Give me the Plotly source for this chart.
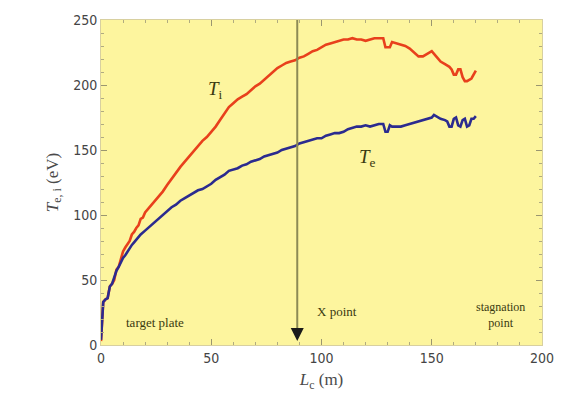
import plotly.graph_objects as go

# T_i (red) data: L_c (m) vs T (eV)
ti_x = [0, 0.5, 1, 2, 3, 4, 5, 6, 7, 8, 9, 10, 11, 12, 13, 14, 15, 16, 17, 18, 19, 20,
        22, 24, 26, 28, 30, 32, 34, 36, 38, 40, 42, 44, 46, 48, 50, 52, 54, 56, 58, 60,
        62, 64, 66, 68, 70, 72, 74, 76, 78, 80, 82, 84, 86, 88, 90, 92, 94, 96, 98, 100,
        102, 104, 106, 108, 110, 112, 114, 116, 118, 120, 122, 124, 126, 128, 129, 131,
        132, 134, 136, 138, 140, 142, 144, 146, 148, 150, 152, 154, 156, 158, 159, 160,
        161, 162, 163, 164, 165, 166, 168, 169, 170]
ti_y = [3, 20, 33, 35, 36, 45, 47, 50, 58, 60, 66, 72, 75, 78, 80, 85, 87, 90, 92, 97, 98, 102,
        106, 110, 114, 118, 123, 128, 132, 137, 141, 145, 149, 153, 157, 160, 164, 168, 173, 178, 183, 186,
        189, 191, 193, 196, 199, 201, 204, 207, 210, 213, 215, 217, 218, 219, 221, 222, 224, 226, 227, 229,
        231, 232, 233, 234, 235, 235, 236, 235, 235, 234, 235, 236, 236, 236, 229, 229,
        233, 232, 231, 230, 228, 225, 222, 222, 224, 226, 222, 218, 216, 214, 212, 208,
        208, 212, 212, 206, 203, 203, 205, 208, 211]

# T_e (blue) data
te_x = [0, 0.5, 1, 2, 3, 4, 5, 6, 7, 8, 9, 10, 11, 12, 13, 14, 15, 16, 17, 18, 20,
        22, 24, 26, 28, 30, 32, 34, 36, 38, 40, 42, 44, 46, 48, 50, 52, 54, 56, 58, 60,
        62, 64, 66, 68, 70, 72, 74, 76, 78, 80, 82, 84, 86, 88, 90, 92, 94, 96, 98, 100,
        102, 104, 106, 108, 110, 112, 114, 116, 118, 120, 122, 124, 126, 128, 129, 130,
        131, 132, 134, 136, 138, 140, 142, 144, 146, 148, 150, 151, 152, 154, 156, 157,
        158, 159, 160, 161, 162, 163, 164, 165, 166, 167, 168, 169, 170]
te_y = [4, 20, 33, 35, 36, 45, 47, 52, 57, 60, 64, 67, 69, 72, 75, 77, 79, 81, 83, 85, 88,
        91, 94, 97, 100, 103, 106, 108, 111, 113, 115, 117, 119, 120, 122, 124, 127, 129, 131, 134, 135,
        136, 138, 139, 141, 142, 143, 145, 146, 147, 148, 150, 151, 152, 153, 155, 156, 157, 158, 159, 159,
        161, 162, 163, 163, 164, 166, 167, 168, 168, 169, 168, 169, 170, 170, 164, 164,
        169, 168, 168, 168, 169, 170, 171, 172, 173, 174, 175, 177, 176, 174, 173, 172,
        168, 168, 174, 175, 169, 168, 173, 174, 168, 169, 174, 174, 176]

x_ticks = [0, 50, 100, 150, 200]
y_ticks = [0, 50, 100, 150, 200, 250]
x_point = 89

serif = "Liberation Serif, Times New Roman, serif"
narrow = "Liberation Sans Narrow, DejaVu Sans Condensed, Arial Narrow, sans-serif"
txt_col = "#3a3a10"

fig = go.Figure()
fig.add_trace(go.Scatter(x=ti_x, y=ti_y, mode="lines",
                         line=dict(color="#e8401c", width=2.6), showlegend=False))
fig.add_trace(go.Scatter(x=te_x, y=te_y, mode="lines",
                         line=dict(color="#2b2b8f", width=2.6), showlegend=False))

# X point vertical line with arrow
fig.add_shape(type="line", x0=x_point, x1=x_point, y0=250, y1=10,
              xref="x", yref="y", line=dict(color="#8c8a55", width=2))
fig.add_annotation(x=x_point, y=3, ax=x_point, ay=14, xref="x", yref="y",
                   axref="x", ayref="y", showarrow=True, arrowhead=2, arrowsize=1.3,
                   arrowwidth=2, arrowcolor="#1a1a1a", text=" ")

annots = [
    dict(x=51.7, y=196, text="<i>T</i><sub>i</sub>", size=19),
    dict(x=121, y=144, text="<i>T</i><sub>e</sub>", size=19),
    dict(x=24.5, y=17, text="target plate", size=13),
    dict(x=107, y=26, text="X point", size=13),
    dict(x=181, y=23, text="stagnation<br>point", size=12),
]
for a in annots:
    fig.add_annotation(x=a["x"], y=a["y"], xref="x", yref="y", text=a["text"],
                       showarrow=False, font=dict(family=serif, size=a["size"], color=txt_col))

axis_common = dict(
    showgrid=False, zeroline=False, showline=True, linecolor="#d8d0a0", linewidth=1,
    mirror="ticks", ticks="inside", ticklen=6, tickwidth=1, tickcolor="#9a9670",
    tickfont=dict(family=narrow, size=14, color="#444444"),
    minor=dict(ticks="inside", ticklen=3, tickcolor="#b0ab80", dtick=10),
)

fig.update_xaxes(range=[0, 200], tickvals=x_ticks, **axis_common,
                 title=dict(text="<i>L</i><sub>c</sub> (m)", font=dict(family=serif, size=17, color="#4a4a4a"),
                            standoff=8))
fig.update_yaxes(range=[0, 250], tickvals=y_ticks, **axis_common,
                 title=dict(text="<i>T</i><sub>e, i</sub> (eV)", font=dict(family=serif, size=17, color="#4a4a4a"),
                            standoff=10))

fig.update_layout(
    width=567, height=417,
    margin=dict(l=101, r=25, t=15, b=72),
    plot_bgcolor="#fdf59e",
    paper_bgcolor="white",
)

fig.write_html("out.html")
